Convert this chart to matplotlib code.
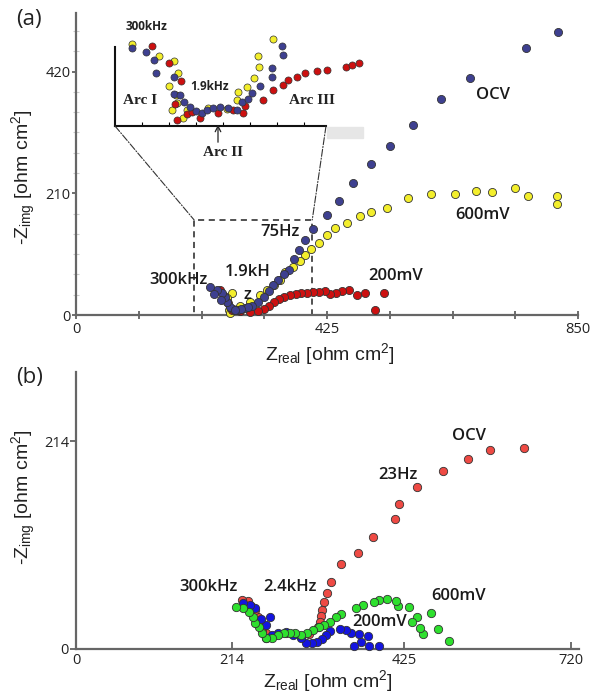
import matplotlib.pyplot as plt
from matplotlib.patches import Rectangle, ConnectionPatch

plt.rcParams['mathtext.fontset'] = 'custom'
plt.rcParams['mathtext.rm'] = 'Liberation Sans'
plt.rcParams['mathtext.default'] = 'regular'

# ---------------- panel (a): Z_real / -Z_img in ohm cm2
ocv_a_x = [816, 762, 667, 618, 571, 532, 500, 469, 445, 425, 401, 388, 378, 369, 361,
           352, 342, 334, 327, 318, 308, 298, 286, 274, 266, 261, 256, 252, 247, 239, 227,
           292, 280, 270, 245, 234]
ocv_a_y = [489, 461, 409, 373, 328, 292, 261, 228, 197, 173, 149, 130, 112, 97, 78,
           71, 60, 52, 41, 31, 22, 16, 12, 9, 10, 14, 22, 31, 38, 43, 48,
           14, 10, 8, 26, 36]

v600_a_x = [814, 814, 765, 743, 704, 677, 642, 601, 562, 527, 500, 481, 459, 439, 425,
            411, 398, 388, 379, 367, 354, 345, 335, 323, 312, 295, 278, 259, 264, 261, 256]
v600_a_y = [192, 206, 206, 219, 212, 214, 209, 209, 202, 185, 178, 171, 159, 150, 138,
            124, 114, 104, 93, 83, 74, 60, 52, 43, 35, 22, 16, 9, 38, 3, 30]

v200_a_x = [521, 506, 489, 476, 462, 450, 440, 430, 422, 411, 401, 391, 381, 372, 362,
            352, 344, 335, 327, 318, 308, 295, 278, 264, 257, 251, 244]
v200_a_y = [38, 9, 38, 35, 43, 41, 38, 36, 41, 40, 40, 38, 38, 36, 35,
            31, 28, 22, 16, 10, 7, 5, 7, 9, 21, 33, 43]

# ---------------- inset of panel (a) (inset units)
ins_yel_x = [17, 44, 59, 63, 54, 61, 62, 57, 68, 72, 93, 112, 122, 123, 132, 139, 144, 143, 158]
ins_yel_y = [82, 70, 65, 53, 40, 31, 23, 16, 8, 16, 18, 17, 26, 34, 39, 48, 59, 70, 87]
ins_red_x = [37, 54, 66, 62, 72, 85, 103, 118, 128, 130, 148, 158, 168, 173, 182, 190,
             202, 212, 231, 237, 244, 60, 77]
ins_red_y = [80, 63, 45, 6, 12, 8, 13, 16, 13, 20, 26, 36, 41, 46, 49, 53,
             55, 56, 59, 61, 63, 22, 14]
ins_ocv_x = [17, 31, 39, 41, 59, 59, 65, 69, 75, 81, 87, 92, 98, 105, 113, 122, 127,
             137, 157, 157, 167, 168, 133, 145]
ins_ocv_y = [78, 74, 66, 53, 49, 32, 31, 24, 19, 15, 13, 16, 18, 19, 18, 16, 24,
             33, 49, 58, 80, 71, 27, 40]

# ---------------- panel (b)
ocv_b_x = [652, 602, 570, 534, 496, 470, 464, 432, 410, 385, 371, 365, 361, 358, 356,
           355, 352, 339, 327, 316, 305, 294, 282, 276, 271, 268, 265, 260, 255, 250, 241]
ocv_b_y = [207, 205, 196, 183, 167, 149, 134, 115, 99, 87, 69, 58, 48, 40, 34,
           28, 23, 15, 13, 15, 16, 15, 12, 16, 20, 27, 33, 40, 44, 49, 50]

v200_b_x = [441, 426, 425, 415, 404, 412, 400, 393, 384, 369, 364, 358, 350, 343, 335,
            327, 316, 305, 294, 285, 276, 276, 282, 269, 260, 253, 243]
v200_b_y = [3, 3, 13, 7, 3, 15, 16, 20, 21, 19, 14, 10, 7, 6, 6,
            11, 14, 17, 16, 14, 11, 25, 33, 31, 42, 45, 47]

v600_b_x = [542, 526, 516, 505, 500, 496, 489, 484, 468, 465, 452, 441, 434, 417, 407,
            386, 378, 369, 361, 353, 344, 336, 327, 319, 311, 302, 294, 285, 276, 271,
            266, 260, 257, 252, 243, 233]
v600_b_y = [8, 21, 37, 15, 22, 33, 28, 43, 44, 49, 51, 50, 48, 45, 42,
            36, 33, 28, 25, 23, 20, 16, 14, 16, 16, 16, 14, 11, 11, 16,
            23, 27, 33, 38, 42, 43]

fig = plt.figure(figsize=(6.02, 6.95), dpi=100)

ax1 = fig.add_axes([76 / 602, 1 - 315 / 695, 502 / 602, 302 / 695])
ax2 = fig.add_axes([76 / 602, 1 - 649 / 695, 503 / 602, 277 / 695])

tick_font = dict(family='Open Sans', size=10.5, color='#222222')
lab_font = dict(family='Liberation Sans', size=14, color='#222222')
ann_font = dict(family='Open Sans', size=12, weight='semibold', color='#1a1a1a')

for ax in (ax1, ax2):
    for s in ('top', 'right'):
        ax.spines[s].set_visible(False)
    for s in ('left', 'bottom'):
        ax.spines[s].set_color('#666666')
        ax.spines[s].set_linewidth(1.6)
    ax.set_facecolor('none')

# panel (a)
edge = dict(edgecolor='#333333', linewidths=0.6, s=34, clip_on=False)
ax1.scatter(v600_a_x, v600_a_y, color='#f3ee2c', zorder=3, **edge)
ax1.scatter(v200_a_x, v200_a_y, color='#cc1010', zorder=3, **edge)
ax1.scatter(ocv_a_x, ocv_a_y, color='#3e4090', zorder=4, **edge)
ax1.set_xlim(0, 850)
ax1.set_ylim(0, 521)
ax1.set_xticks([i * 106.25 for i in range(9)])
ax1.set_xticklabels(['0', '', '', '', '425', '', '', '', '850'], **tick_font)
ax1.set_yticks([0, 210, 420])
ax1.set_yticklabels(['0', '210', '420'], **tick_font)
ax1.set_yticks([35 * i for i in range(1, 15) if i % 6], minor=True)
ax1.tick_params(axis='x', direction='inout', length=6, width=1.2, color='#555555', pad=2)
ax1.tick_params(axis='y', which='major', direction='out', length=3, width=1.2,
                color='#555555', pad=1)
ax1.tick_params(axis='y', which='minor', direction='inout', length=4, width=0.8,
                color='#cccccc')
ax1.set_xlabel('Z$_{real}$ [ohm cm$^2$]', **lab_font)
ax1.xaxis.set_label_coords(0.506, -0.088)
ax1.set_ylabel('-Z$_{img}$ [ohm cm$^2$]', **lab_font)
ax1.yaxis.set_label_coords(-0.075, 0.457)

ax1.add_patch(Rectangle((200, 0), 200, 164, fill=False, ls=(0, (4, 3)), lw=1.1,
                        ec='#222222', clip_on=False, zorder=2))
ax1.text(706, 380, 'OCV', ha='center', va='center', **ann_font)
ax1.text(689, 173, '600mV', ha='center', va='center', **ann_font)
ax1.text(542, 67, '200mV', ha='center', va='center', **ann_font)
ax1.text(345, 143, '75Hz', ha='center', va='center', **ann_font)
ax1.text(291, 74, '1.9kH', ha='center', va='center', **ann_font)
ax1.text(291, 35, 'z', ha='center', va='center', **ann_font)
ax1.text(173, 60, '300kHz', ha='center', va='center', **ann_font)
fig.text(29 / 602, 1 - 20 / 695, '(a)', ha='center', va='center',
         family='Open Sans', size=16, color='#222222')

# inset
axi = fig.add_axes([115 / 602, 1 - 126 / 695, 260 / 602, 96 / 695])
axi.set_xlim(0, 260)
axi.set_ylim(0, 96)
axi.set_facecolor('none')
for s in ('top', 'right'):
    axi.spines[s].set_visible(False)
axi.spines['left'].set_bounds(0, 79)
axi.spines['bottom'].set_bounds(0, 211)
for s in ('left', 'bottom'):
    axi.spines[s].set_linewidth(1.5)
    axi.spines[s].set_color('#111111')
axi.set_yticks([])
axi.set_xticks([27 * i for i in range(1, 8)])
axi.tick_params(axis='x', direction='in', length=3, width=0.8, labelbottom=False)
iedge = dict(edgecolor='#333333', linewidths=0.5, s=26, clip_on=False)
axi.scatter(ins_yel_x, ins_yel_y, color='#f3ee2c', zorder=3, **iedge)
axi.scatter(ins_red_x, ins_red_y, color='#cc1010', zorder=3, **iedge)
axi.scatter(ins_ocv_x, ins_ocv_y, color='#3e4090', zorder=4, **iedge)
axi.add_patch(Rectangle((212, -12), 36, 11, color='#e6e6e6', clip_on=False))
serif = dict(family='Liberation Serif', weight='bold', size=11, color='#222222')
axi.text(25, 25, 'Arc I', ha='center', va='center', **serif)
axi.text(197, 25, 'Arc III', ha='center', va='center', **serif)
axi.text(108, -27, 'Arc II', ha='center', va='center', clip_on=False, **serif)
axi.annotate('', xy=(103, 4), xytext=(103, -19), annotation_clip=False,
             arrowprops=dict(arrowstyle='->', lw=0.9, color='#222222'))
small = dict(family='Open Sans', weight='bold', size=8.5, color='#222222')
axi.text(32, 99, '300kHz', ha='center', va='center', clip_on=False, **small)
axi.text(95, 40, '1.9kHz', ha='center', va='center', **small)

for xa, xb in ((0, 200), (211, 400)):
    con = ConnectionPatch(xyA=(xa, 0), coordsA=axi.transData, xyB=(xb, 164),
                          coordsB=ax1.transData, ls='-.', lw=0.8, color='#333333')
    fig.add_artist(con)

# panel (b)
edge_b = dict(edgecolor='#333333', linewidths=0.6, s=36, clip_on=False)
ax2.scatter(ocv_b_x, ocv_b_y, color='#ee4a44', zorder=3, **edge_b)
ax2.scatter(v200_b_x, v200_b_y, color='#1414e0', zorder=3, **edge_b)
ax2.scatter(v600_b_x, v600_b_y, color='#2ee02e', zorder=4, **edge_b)
ax2.set_xlim(0, 731.6)
ax2.set_ylim(0, 285)
ax2.set_xticks([0, 227, 477, 720])
ax2.set_xticklabels(['0', '214', '425', '720'], **tick_font)
ax2.set_yticks([0, 214])
ax2.set_yticklabels(['0', '214'], **tick_font)
ax2.tick_params(axis='x', direction='in', length=5, width=1.2, color='#555555', pad=3)
ax2.tick_params(axis='y', direction='out', length=4, width=1.2, color='#555555', pad=1)
ax2.set_xlabel('Z$_{real}$ [ohm cm$^2$]', **lab_font)
ax2.xaxis.set_label_coords(0.501, -0.07)
ax2.set_ylabel('-Z$_{img}$ [ohm cm$^2$]', **lab_font)
ax2.yaxis.set_label_coords(-0.075, 0.549)

ax2.text(572, 219, 'OCV', ha='center', va='center', **ann_font)
ax2.text(468, 179, '23Hz', ha='center', va='center', **ann_font)
ax2.text(193, 64, '300kHz', ha='center', va='center', **ann_font)
ax2.text(311, 64, '2.4kHz', ha='center', va='center', **ann_font)
ax2.text(557, 55, '600mV', ha='center', va='center', **ann_font)
ax2.text(442, 28, '200mV', ha='center', va='center', **ann_font)
fig.text(30 / 602, 1 - 378 / 695, '(b)', ha='center', va='center',
         family='Open Sans', size=16, color='#222222')

fig.savefig('out.png', dpi=100)
